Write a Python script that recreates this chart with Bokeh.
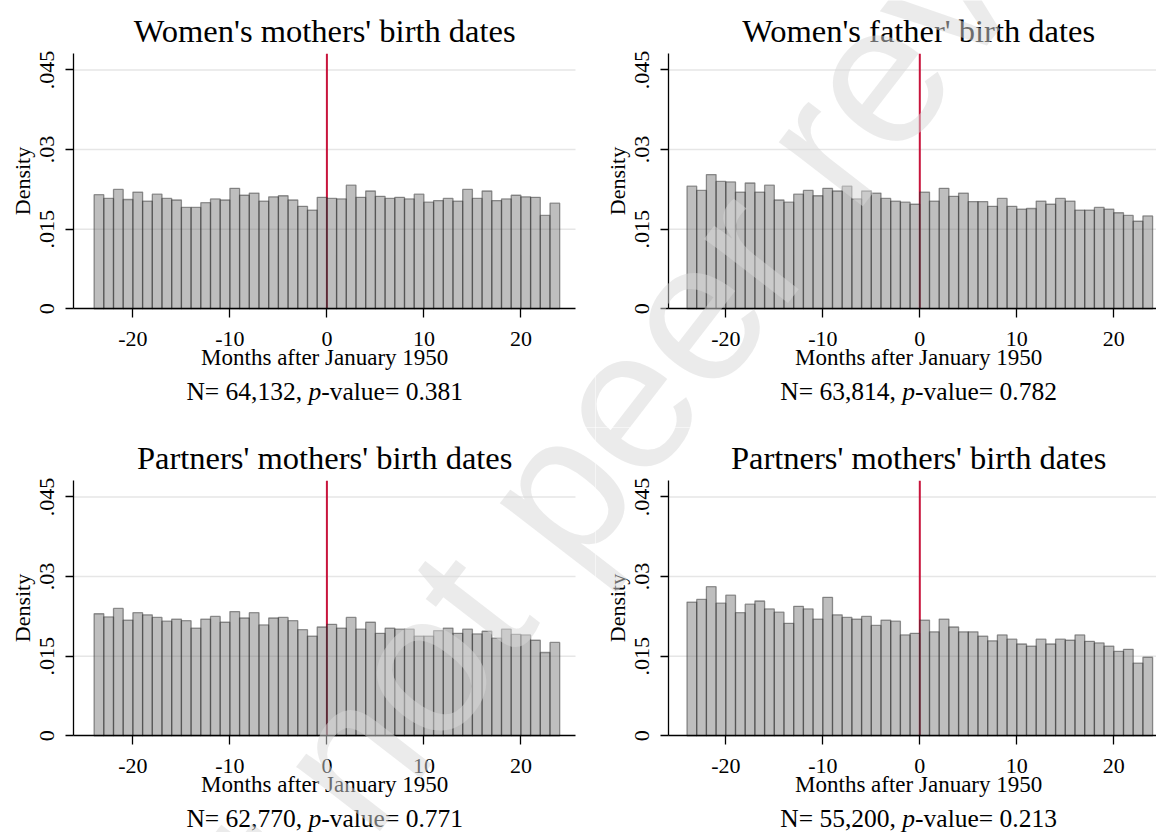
import math
import numpy as np
from bokeh.plotting import figure
from bokeh.models import FixedTicker, Label
from bokeh.layouts import row, column
from bokeh.embed import file_html
from bokeh.resources import INLINE

# ---------------- data ----------------
bin_left = np.arange(-24, 24)          # monthly bins, months after January 1950
bin_right = bin_left + 1
cutoff = 0

titles = ["Women's mothers' birth dates", "Women's father' birth dates",
          "Partners' mothers' birth dates", "Partners' mothers' birth dates"]
n_obs = ["64,132", "63,814", "62,770", "55,200"]
p_values = ["0.381", "0.782", "0.771", "0.213"]

women_mothers = [.0215, .0208, .0225, .0206, .0220, .0203, .0216, .0208, .0205, .0191, .0191, .0200,
                 .0207, .0205, .0227, .0214, .0218, .0203, .0211, .0213, .0205, .0193, .0186, .0210,
                 .0208, .0207, .0233, .0210, .0222, .0212, .0208, .0210, .0207, .0216, .0201, .0204,
                 .0208, .0203, .0225, .0208, .0222, .0204, .0207, .0214, .0211, .0210, .0176, .0199]
women_fathers = [.0231, .0223, .0253, .0240, .0239, .0220, .0237, .0220, .0233, .0205, .0201, .0216,
                 .0223, .0213, .0227, .0222, .0231, .0207, .0222, .0218, .0208, .0203, .0201, .0197,
                 .0220, .0203, .0227, .0212, .0218, .0202, .0202, .0193, .0208, .0193, .0188, .0189,
                 .0203, .0197, .0208, .0203, .0186, .0186, .0191, .0188, .0181, .0176, .0165, .0175]
partners_mothers = [.0230, .0224, .0240, .0218, .0232, .0228, .0223, .0216, .0220, .0217, .0203, .0220,
                    .0225, .0214, .0234, .0222, .0232, .0209, .0222, .0223, .0217, .0200, .0188, .0205,
                    .0210, .0203, .0223, .0201, .0214, .0193, .0203, .0201, .0201, .0188, .0188, .0198,
                    .0203, .0193, .0201, .0192, .0197, .0184, .0201, .0191, .0190, .0180, .0157, .0176]
partners_second = [.0252, .0257, .0281, .0250, .0265, .0232, .0248, .0254, .0239, .0233, .0212, .0244,
                   .0239, .0220, .0261, .0228, .0223, .0220, .0225, .0208, .0218, .0216, .0190, .0193,
                   .0218, .0196, .0220, .0205, .0196, .0196, .0188, .0179, .0190, .0182, .0173, .0169,
                   .0182, .0173, .0182, .0180, .0190, .0178, .0175, .0169, .0159, .0163, .0137, .0148]
series = [women_mothers, women_fathers, partners_mothers, partners_second]

x_ticks = [-20, -10, 0, 10, 20]
x_tick_labels = {-20: "-20", -10: "-10", 0: "0", 10: "10", 20: "20"}
y_ticks = [0, 0.015, 0.03, 0.045]
y_tick_labels = {0: "0", 0.015: ".015", 0.03: ".03", 0.045: ".045"}
grid_levels = [0.015, 0.03, 0.045]

# ---------------- style / layout ----------------
SERIF = "Liberation Serif"
RED = "#c8143c"
COL_W = [595, 561]
ROW_H = [427, 405]
PXM = 9.70          # pixels per month
PXU = 5307.0        # pixels per density unit
ZERO_X = [326.4, 324.3]   # canvas x of month 0, per column
ZERO_Y = 308.3            # canvas y of density 0 (same in both rows)
AXIS_X_PX = 73.4          # canvas x of the y axis
AXIS_RIGHT_PX = 575.0     # canvas x where the x axis ends (left column)
FRAME_TOP_PX = 53.3
YTOP = (ZERO_Y - FRAME_TOP_PX) / PXU
XAX_MAX = (AXIS_RIGHT_PX - ZERO_X[0]) / PXM

TITLE_BASE = 30.7     # canvas y used for the text anchors
XLABEL_BASE = 356.7
NLINE_BASE = 390.5

# Times / Liberation Serif advance widths (em)
TW = {"N": .722, "=": .564, " ": .25, ",": .25, ".": .25, "-": .333, "v": .5, "a": .444,
      "l": .278, "u": .5, "e": .444, "p": .5}
for d in "0123456789":
    TW[d] = .5


def tw(s, size):
    return sum(TW[c] for c in s) * size


WM_TEXT = "Preprint not peer reviewed"
WM_CENTER = (571, 469)
WM_ANGLE = math.radians(52.3)


def panel(i):
    r, c = divmod(i, 2)
    w, h = COL_W[c], ROW_H[r]
    zx = ZERO_X[c]
    xr = (-zx / PXM, (w - zx) / PXM)
    yr = ((ZERO_Y - h) / PXU, ZERO_Y / PXU)
    xax_min = (AXIS_X_PX - zx) / PXM
    p = figure(width=w, height=h, x_range=xr, y_range=yr,
               output_backend="svg", toolbar_location=None,
               min_border_left=0, min_border_right=0, min_border_top=0, min_border_bottom=0)
    p.outline_line_color = None
    p.background_fill_color = "white"
    p.border_fill_color = "white"
    p.xgrid.visible = False
    p.ygrid.visible = False

    # horizontal grid lines
    p.segment(x0=xax_min, x1=XAX_MAX, y0=grid_levels, y1=grid_levels,
              line_color="#e6e6e6", line_width=1.5)
    # cutoff line (January 1950)
    p.segment(x0=[cutoff], x1=[cutoff], y0=[0], y1=[YTOP], line_color=RED, line_width=2)
    # histogram bars
    p.quad(left=bin_left, right=bin_right, bottom=0, top=series[i],
           fill_color="#6e6e6e", fill_alpha=0.45,
           line_color="#1f1f1f", line_alpha=0.45, line_width=1.3)

    for ax in (p.xaxis[0], p.yaxis[0]):
        ax.axis_line_color = "black"
        ax.axis_line_width = 1.3
        ax.major_tick_line_color = "black"
        ax.major_tick_line_width = 1.3
        ax.major_tick_in = 0
        ax.minor_tick_line_color = None
        ax.major_label_text_font = SERIF
        ax.major_label_text_color = "black"
        ax.major_label_text_font_size = "22px"

    p.xaxis.fixed_location = 0
    p.xaxis.bounds = (xax_min, XAX_MAX)
    p.xaxis.ticker = FixedTicker(ticks=x_ticks)
    p.xaxis.major_label_overrides = x_tick_labels
    p.xaxis.major_tick_out = 9
    p.xaxis.major_label_standoff = 14

    p.yaxis.fixed_location = xax_min
    p.yaxis.bounds = (0, YTOP)
    p.yaxis.ticker = FixedTicker(ticks=y_ticks)
    p.yaxis.major_label_overrides = y_tick_labels
    p.yaxis.major_label_orientation = "vertical"
    p.yaxis.major_tick_out = 8
    p.yaxis.major_label_standoff = 12
    p.yaxis.axis_label = "Density"
    p.yaxis.axis_label_text_font = SERIF
    p.yaxis.axis_label_text_font_style = "normal"
    p.yaxis.axis_label_text_font_size = "22px"
    p.yaxis.axis_label_text_color = "black"
    p.yaxis.axis_label_standoff = 2

    cx = (xax_min + XAX_MAX) / 2
    p.add_layout(Label(x=cx, y=h - TITLE_BASE, x_units="data", y_units="screen",
                       text=titles[i], text_font=SERIF, text_font_size="32.5px",
                       text_color="black", text_align="center", text_baseline="alphabetic"))
    p.add_layout(Label(x=cx, y=h - XLABEL_BASE, x_units="data", y_units="screen",
                       text="Months after January 1950", text_font=SERIF, text_font_size="23px",
                       text_color="black", text_align="center", text_baseline="alphabetic"))

    fs = 25.5
    part1 = "N= " + n_obs[i] + ", "
    part3 = "-value= " + p_values[i]
    total = tw(part1, fs) + tw("p", fs) + tw(part3, fs)
    x0 = -total / 2
    for txt, off, style in [(part1, x0, "normal"),
                            ("p", x0 + tw(part1, fs), "italic"),
                            (part3, x0 + tw(part1, fs) + tw("p", fs), "normal")]:
        p.add_layout(Label(x=cx, y=h - NLINE_BASE, x_units="data", y_units="screen", x_offset=off,
                           text=txt, text_font=SERIF, text_font_size=f"{fs}px",
                           text_font_style=style, text_color="black",
                           text_align="left", text_baseline="alphabetic"))

    # watermark of the preprint server, continuous across the four panels
    ox = sum(COL_W[:c])
    oy = sum(ROW_H[:r])
    p.add_layout(Label(x=WM_CENTER[0] - ox, y=oy + h - WM_CENTER[1],
                       x_units="screen", y_units="screen", angle=WM_ANGLE,
                       text=WM_TEXT, text_font="Liberation Sans", text_font_size="200px",
                       text_color="#d8d8d8", text_alpha=0.5,
                       text_align="center", text_baseline="middle"))
    return p


panels = [panel(i) for i in range(4)]
layout = column(row(panels[0], panels[1], spacing=0), row(panels[2], panels[3], spacing=0), spacing=0)

open("out.html", "w").write(file_html(layout, INLINE))
